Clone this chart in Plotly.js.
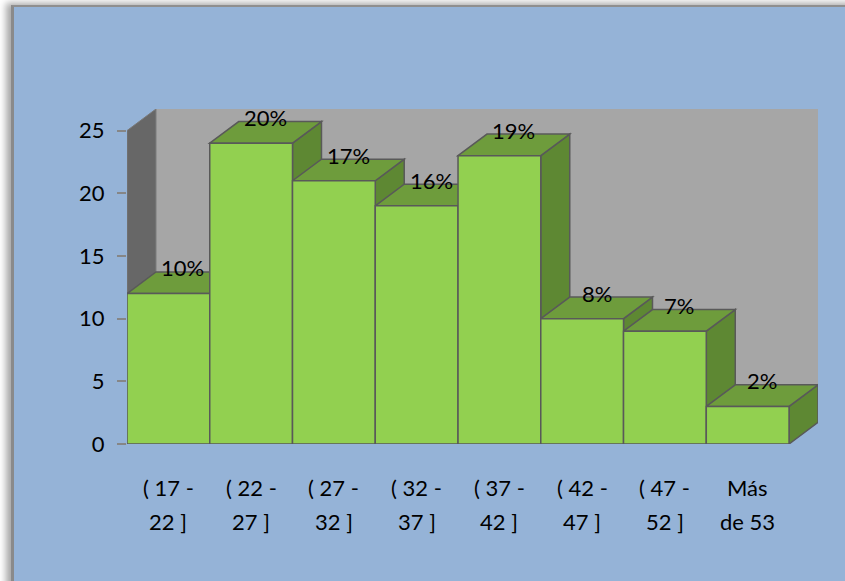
<!DOCTYPE html>
<html><head><meta charset="utf-8">
<script src="https://cdn.plot.ly/plotly-3.0.1.min.js"></script>
<style>
html,body{margin:0;padding:0;width:845px;height:581px;overflow:hidden;background:#fff;}
#frame{position:absolute;left:11px;top:5px;width:900px;height:700px;background:#95B3D7;border-left:3px solid #8a8a8a;border-top:2px solid #8f8f8f;box-shadow:-5px -2px 7px rgba(0,0,0,0.35);}
#chart{position:absolute;left:0;top:0;width:845px;height:581px;}
</style></head><body>
<div id="frame"></div><div id="chart"></div>
<script>
// ---- data ----
const categoriesLine1 = ['( 17 -','( 22 -','( 27 -','( 32 -','( 37 -','( 42 -','( 47 -','Más'];
const categoriesLine2 = ['22 ]','27 ]','32 ]','37 ]','42 ]','47 ]','52 ]','de 53'];
const counts = [12, 24, 21, 19, 23, 10, 9, 3];
const percentLabels = ['10%','20%','17%','16%','19%','8%','7%','2%'];
const yTicks = [0, 5, 10, 15, 20, 25];

// ---- pseudo-3D depth (in axis units) ----
const dX = 0.35, dY = 1.723, yTop = 25;
const n = counts.length;
const idx = counts.map((_, i) => i);
const font = {family: 'Lato, "Open Sans", sans-serif', size: 22, color: '#000'};
const edge = {color: '#595959', width: 1.5};

const shapes = [];
// back wall
shapes.push({type:'rect', xref:'x', yref:'y', layer:'below', x0:-0.5+dX, x1:n-0.5+dX, y0:dY, y1:yTop+dY,
  fillcolor:'#A6A6A6', line:{width:0}});
// left wall
shapes.push({type:'path', xref:'x', yref:'y', layer:'below',
  path:`M ${-0.5} 0 L ${-0.5+dX} ${dY} L ${-0.5+dX} ${yTop+dY} L ${-0.5} ${yTop} Z`,
  fillcolor:'#676767', line:{color:'#7a7a7a', width:1}});
// side and top faces
counts.forEach((v, i) => {
  const xl = i-0.5, xr = i+0.5;
  shapes.push({type:'path', xref:'x', yref:'y', layer:'below',
    path:`M ${xr} 0 L ${xr+dX} ${dY} L ${xr+dX} ${v+dY} L ${xr} ${v} Z`,
    fillcolor:'#5E8833', line:edge});
  shapes.push({type:'path', xref:'x', yref:'y', layer:'below',
    path:`M ${xl} ${v} L ${xl+dX} ${v+dY} L ${xr+dX} ${v+dY} L ${xr} ${v} Z`,
    fillcolor:'#6E9C3C', line:edge});
});

const annotations = [];
counts.forEach((v, i) => {
  annotations.push({x:i+dX/2, y:v+dY, xref:'x', yref:'y', text:percentLabels[i], showarrow:false,
    yanchor:'middle', yshift:4, font:font});
  annotations.push({x:i, y:0, xref:'x', yref:'y', text:categoriesLine1[i], showarrow:false,
    yanchor:'middle', yshift:-43, font:font});
  annotations.push({x:i, y:0, xref:'x', yref:'y', text:categoriesLine2[i], showarrow:false,
    yanchor:'middle', yshift:-77, font:font});
});

const trace = {type:'bar', x:idx, y:counts, width:1,
  marker:{color:'#92D050', line:edge}, hoverinfo:'skip'};

const layout = {
  width:845, height:581,
  margin:{l:127, r:27, t:109, b:137, pad:0},
  paper_bgcolor:'rgba(0,0,0,0)', plot_bgcolor:'rgba(0,0,0,0)',
  showlegend:false, bargap:0,
  xaxis:{range:[-0.5, n-0.5+dX], showticklabels:false, ticks:'', showline:false, showgrid:false, zeroline:false, fixedrange:true},
  yaxis:{range:[0, yTop+dY], tickvals:yTicks, ticks:'outside', ticklen:9, tickwidth:2, tickcolor:'#868686',
    ticklabelstandoff:8, showline:false, showgrid:false, zeroline:false, tickfont:font, fixedrange:true},
  shapes:shapes, annotations:annotations
};
Plotly.newPlot('chart', [trace], layout, {displayModeBar:false, staticPlot:true});
</script></body></html>
